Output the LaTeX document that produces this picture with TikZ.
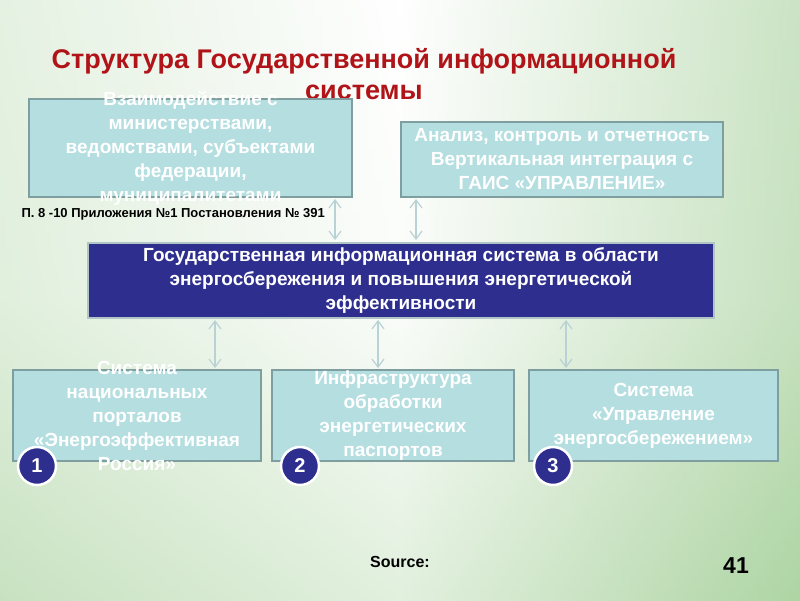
\documentclass[tikz,border=0pt]{standalone}
\usepackage{fontspec}
\setmainfont{Liberation Sans}
\usetikzlibrary{arrows.meta}
\definecolor{boxfill}{HTML}{B5DEE0}
\definecolor{boxline}{HTML}{7E9EA0}
\definecolor{navy}{HTML}{2E2E8E}
\definecolor{ttl}{HTML}{B01418}
\definecolor{bggreen}{HTML}{6DB35A}
\definecolor{arr}{HTML}{B8D2D6}
\begin{document}
\begin{tikzpicture}[x=1pt,y=-1pt,
  lbox/.style={draw=boxline,line width=1.5pt,fill=boxfill,text=white,font=\bfseries\fontsize{19}{24}\selectfont,align=center,inner sep=2pt},
  wtxt/.style={text=white,font=\bfseries\fontsize{19}{24}\selectfont,align=center},
  num/.style={circle,draw=white,line width=2.5pt,fill=navy,text=white,font=\bfseries\fontsize{20}{20}\selectfont,minimum size=38pt,inner sep=0pt},
  dar/.style={draw=arr,line width=1.2pt,{Straight Barb[open,length=8pt,width=12pt]}-{Straight Barb[open,length=8pt,width=12pt]}}]
\useasboundingbox (0,0) rectangle (800,600);
\shade[bottom color=bggreen!80,top color=white,middle color=white!88!bggreen] (0,0) rectangle (800,600);
\shade[left color=bggreen!70,right color=white,middle color=white,opacity=0.5] (0,0) rectangle (800,600);
\shade[right color=bggreen!70,left color=white,middle color=white,opacity=0.5] (0,0) rectangle (800,600);
\node[text=ttl,font=\bfseries\fontsize{27}{31}\selectfont,align=center] (title) at (364,74) {Структура Государственной информационной\\системы};
\node[lbox,minimum width=323pt,minimum height=98pt] (a) at (190.5,148) {};
\node[wtxt] (at) at (190.5,148) {Взаимодействие с\\министерствами,\\ведомствами, субъектами\\федерации,\\муниципалитетами};
\node[lbox,minimum width=322pt,minimum height=75pt] (b) at (562,159.5) {Анализ, контроль и отчетность\\Вертикальная интеграция с\\ГАИС «УПРАВЛЕНИЕ»};
\node[draw=boxline!60,line width=1.5pt,fill=navy,wtxt,minimum width=626pt,minimum height=75pt] (c) at (401,280.5) {Государственная информационная система в области\\энергосбережения и повышения энергетической\\эффективности};
\node[lbox,minimum width=248pt,minimum height=91pt] (d) at (137,415.5) {};
\node[wtxt] (dt) at (137,416) {Система\\национальных\\порталов\\«Энергоэффективная\\Россия»};
\node[lbox,minimum width=242pt,minimum height=91pt] (e) at (393,415.5) {};
\node[wtxt] (et) at (393,416) {Инфраструктура\\обработки\\энергетических\\паспортов};
\node[lbox,minimum width=249pt,minimum height=91pt] (f) at (653.5,415.5) {Система\\«Управление\\энергосбережением»};
\node[num] (n1) at (37,466) {1};
\node[num] (n2) at (300,466) {2};
\node[num] (n3) at (553,466) {3};
\node[anchor=west,font=\bfseries\fontsize{13}{15}\selectfont] (ref) at (18,214) {П. 8 -10 Приложения №1 Постановления № 391};
\draw[dar] (335,199) -- (335,240);
\draw[dar] (416,199) -- (416,240);
\draw[dar] (215,320) -- (215,368);
\draw[dar] (378,320) -- (378,368);
\draw[dar] (566,320) -- (566,368);
\node[font=\bfseries\fontsize{16}{18}\selectfont] (src) at (400,562) {Source:};
\node[font=\bfseries\fontsize{23}{24}\selectfont] (pg) at (736,566) {41};
\end{tikzpicture}
\end{document}
